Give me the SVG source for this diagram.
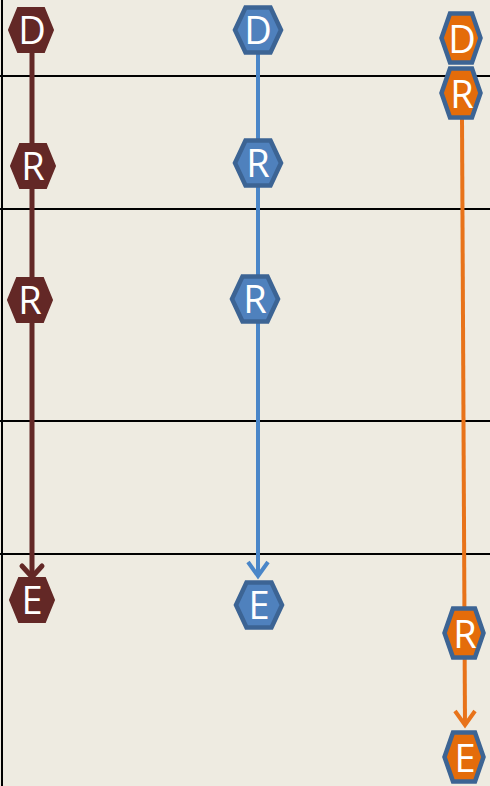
<svg xmlns="http://www.w3.org/2000/svg" xmlns:xlink="http://www.w3.org/1999/xlink" width="490" height="786" viewBox="0 0 490 786">
<style>
.grid{stroke:#000;stroke-width:2;fill:none}
.br{fill:#632826;stroke:#632826;stroke-width:2}
.bl{fill:#4F81BD;stroke:#3C6494;stroke-width:4.5}
.or{fill:#E46C0A;stroke:#3C6494;stroke-width:4.5}
.t{fill:#fff;font-family:"Open Sans","Liberation Sans",sans-serif;font-size:38px;text-anchor:middle}
.lbr{stroke:#632826;stroke-width:5;fill:none}
.lbl{stroke:#4A86C8;stroke-width:4;fill:none}
.lor{stroke:#E8731A;stroke-width:4;fill:none}
</style>
<defs>
<path id="hx" d="M-22,0 L-13,-22 L13,-22 L22,0 L13,22 L-13,22 Z"/>
<path id="hxs" d="M-23,0 L-12.5,-22.5 L12.5,-22.5 L23,0 L12.5,22.5 L-12.5,22.5 Z"/>
<path id="hxo" d="M-19.5,0 L-11,-24.5 L11,-24.5 L19.5,0 L11,24.5 L-11,24.5 Z"/>
</defs>
<rect width="490" height="786" fill="#EEEBE1"/>
<g id="grid">
<line class="grid" x1="2" y1="0" x2="2" y2="786"/>
<line class="grid" x1="0" y1="76" x2="490" y2="76"/>
<line class="grid" x1="0" y1="209" x2="490" y2="209"/>
<line class="grid" x1="0" y1="421" x2="490" y2="421"/>
<line class="grid" x1="0" y1="554" x2="490" y2="554"/>
</g>
<g id="connectors">
<path class="lbr" d="M32,50 L32,576"/>
<path class="lbr" d="M22,566 L32,577 L42,566" stroke-linecap="round"/>
<path class="lbl" d="M258,54 L258,576"/>
<path class="lbl" d="M248,562 L258,576 L268,562"/>
<path class="lor" d="M462,118 L465,725"/>
<path class="lor" d="M455,711 L465,725 L475,711"/>
</g>
<g id="brD"><use xlink:href="#hx" class="br" transform="translate(31,30)"/><text class="t" x="32" y="44">D</text></g>
<g id="brR1"><use xlink:href="#hx" class="br" transform="translate(33,166)"/><text class="t" x="33" y="180">R</text></g>
<g id="brR2"><use xlink:href="#hx" class="br" transform="translate(30,300)"/><text class="t" x="30" y="314">R</text></g>
<g id="brE"><use xlink:href="#hx" class="br" transform="translate(32,600)"/><text class="t" x="32" y="614">E</text></g>
<g id="blD"><use xlink:href="#hxs" class="bl" transform="translate(258,30)"/><text class="t" x="258" y="44">D</text></g>
<g id="blR1"><use xlink:href="#hxs" class="bl" transform="translate(258,163)"/><text class="t" x="258" y="177">R</text></g>
<g id="blR2"><use xlink:href="#hxs" class="bl" transform="translate(255,299)"/><text class="t" x="255" y="313">R</text></g>
<g id="blE"><use xlink:href="#hxs" class="bl" transform="translate(259,605)"/><text class="t" x="259" y="619">E</text></g>
<g id="orD"><use xlink:href="#hxo" class="or" transform="translate(461,38)"/><text class="t" x="462" y="53">D</text></g>
<g id="orR1"><use xlink:href="#hxo" class="or" transform="translate(461,93)"/><text class="t" x="462" y="108">R</text></g>
<g id="orR2"><use xlink:href="#hxo" class="or" transform="translate(464,633)"/><text class="t" x="465" y="648">R</text></g>
<g id="orE"><use xlink:href="#hxo" class="or" transform="translate(464,757)"/><text class="t" x="465" y="772">E</text></g>
</svg>
